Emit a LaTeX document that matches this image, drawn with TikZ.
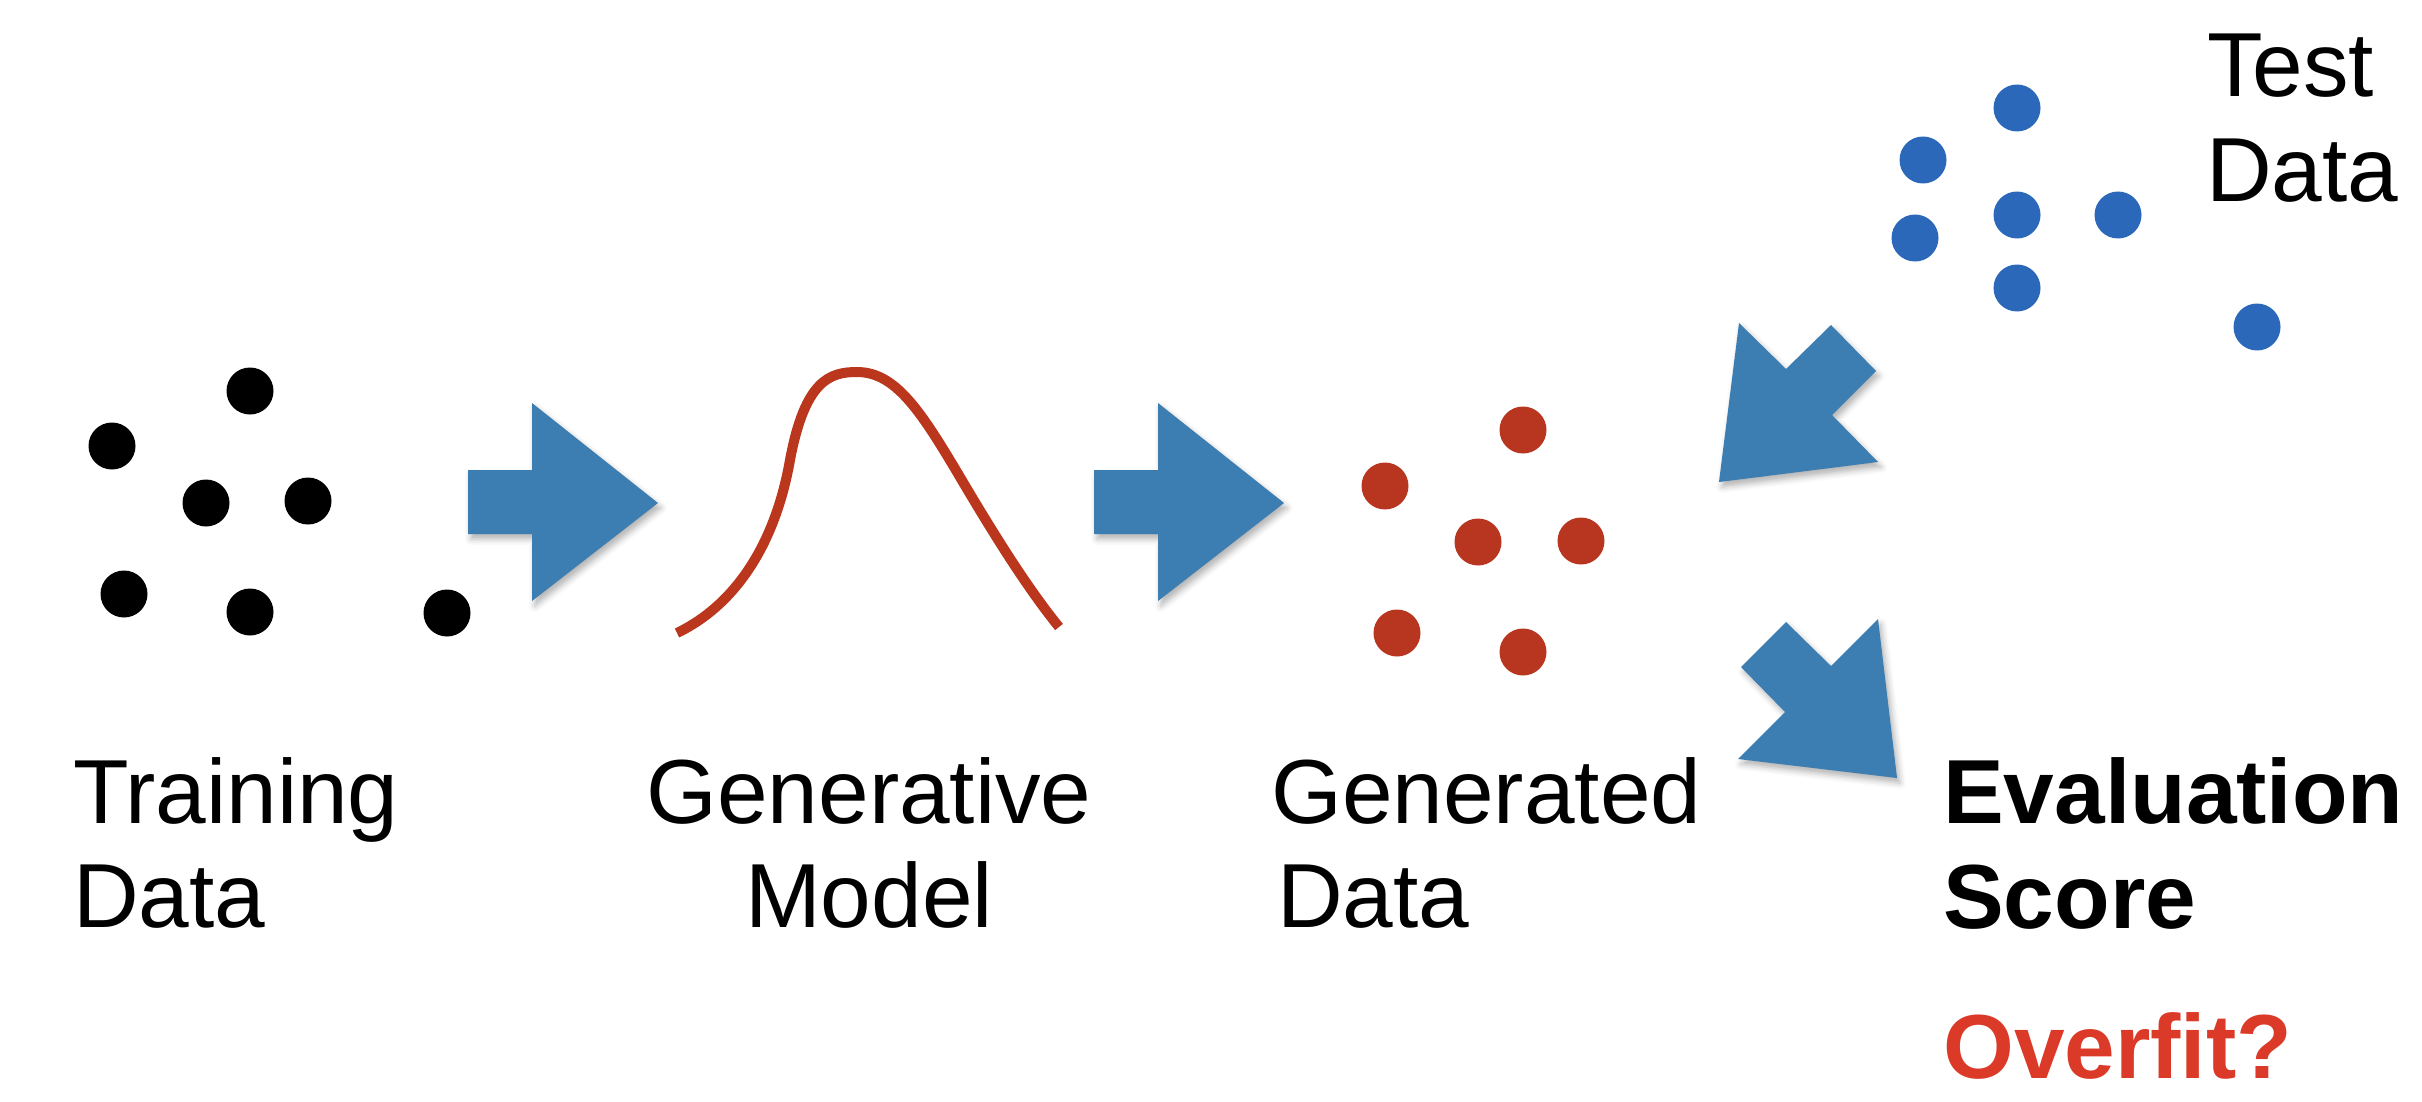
\documentclass[tikz,border=0pt]{standalone}
\usepackage{fontspec}
\setmainfont{Liberation Sans}
\usetikzlibrary{shadows.blur}
\definecolor{arrowblue}{RGB}{60,125,178}
\definecolor{curvered}{RGB}{186,55,30}
\definecolor{dotred}{RGB}{184,54,31}
\definecolor{dotblue}{RGB}{43,104,186}
\definecolor{overfitred}{RGB}{219,58,40}
\begin{document}
\begin{tikzpicture}[x=1pt,y=-1pt,
  blockarrow/.style={fill=arrowblue, blur shadow={shadow xshift=3pt, shadow yshift=-5pt, shadow blur radius=6pt, shadow opacity=30}},
  dot/.style={circle, inner sep=0pt, minimum size=47pt, fill=black},
  rdot/.style={dot, fill=dotred},
  bdot/.style={dot, fill=dotblue},
  lbl/.style={inner sep=0pt, font=\fontsize{91}{104}\selectfont},
  blbl/.style={lbl, font=\fontsize{91}{104}\selectfont\bfseries}]
\useasboundingbox (0,0) rectangle (2422,1102);

% training data (black dots)
\node[dot] (k1) at (250,391) {};
\node[dot] (k2) at (112,446) {};
\node[dot] (k3) at (206,503) {};
\node[dot] (k4) at (308,501) {};
\node[dot] (k5) at (124,594) {};
\node[dot] (k6) at (250,612) {};
\node[dot] (k7) at (447,613) {};

% arrows
\fill[blockarrow] (468,470) -- (532,470) -- (532,403) -- (658,503) -- (532,601) -- (532,534) -- (468,534) -- cycle;
\fill[blockarrow] (1094,470) -- (1158,470) -- (1158,403) -- (1284,503) -- (1158,601) -- (1158,534) -- (1094,534) -- cycle;
\fill[blockarrow] (1739,323) -- (1786,369) -- (1831,325) -- (1876,371) -- (1832,415) -- (1878,462) -- (1719,482) -- cycle;
\fill[blockarrow] (1786,622) -- (1831,666) -- (1878,619) -- (1897,778) -- (1738,759) -- (1785,712) -- (1741,667) -- cycle;

% generative model curve
\draw[curvered, line width=10pt]
  (677,633) .. controls (735,605) and (775,545) .. (790,460)
            .. controls (805,380) and (830,372) .. (857,372)
            .. controls (895,372) and (920,410) .. (957,472)
            .. controls (990,528) and (1025,585) .. (1059,627);

% generated data (red dots)
\node[rdot] (r1) at (1523,430) {};
\node[rdot] (r2) at (1385,486) {};
\node[rdot] (r3) at (1478,542) {};
\node[rdot] (r4) at (1581,541) {};
\node[rdot] (r5) at (1397,633) {};
\node[rdot] (r6) at (1523,652) {};

% test data (blue dots)
\node[bdot] (b1) at (2017,108) {};
\node[bdot] (b2) at (1923,160) {};
\node[bdot] (b3) at (2017,215) {};
\node[bdot] (b4) at (2118,215) {};
\node[bdot] (b5) at (1915,238) {};
\node[bdot] (b6) at (2017,288) {};
\node[bdot] (b7) at (2257,327) {};

% labels
\node[lbl, anchor=base west] (train1) at (73,823) {Training};
\node[lbl, anchor=base west] (train2) at (73,927) {Data};
\node[lbl, anchor=base] (gen1) at (869,823) {Generative};
\node[lbl, anchor=base] (gen2) at (869,927) {Model};
\node[lbl, anchor=base west] (gd1) at (1271,823) {Generated};
\node[lbl, anchor=base west] (gd2) at (1277,927) {Data};
\node[lbl, anchor=base west] (test1) at (2207,97) {Test};
\node[lbl, anchor=base west] (test2) at (2206,202) {Data};
\node[blbl, anchor=base west] (ev1) at (1943,823) {Evaluation};
\node[blbl, anchor=base west] (ev2) at (1943,928) {Score};
\node[blbl, anchor=base west, text=overfitred] (ov) at (1943,1078) {Overfit?};
\end{tikzpicture}
\end{document}
